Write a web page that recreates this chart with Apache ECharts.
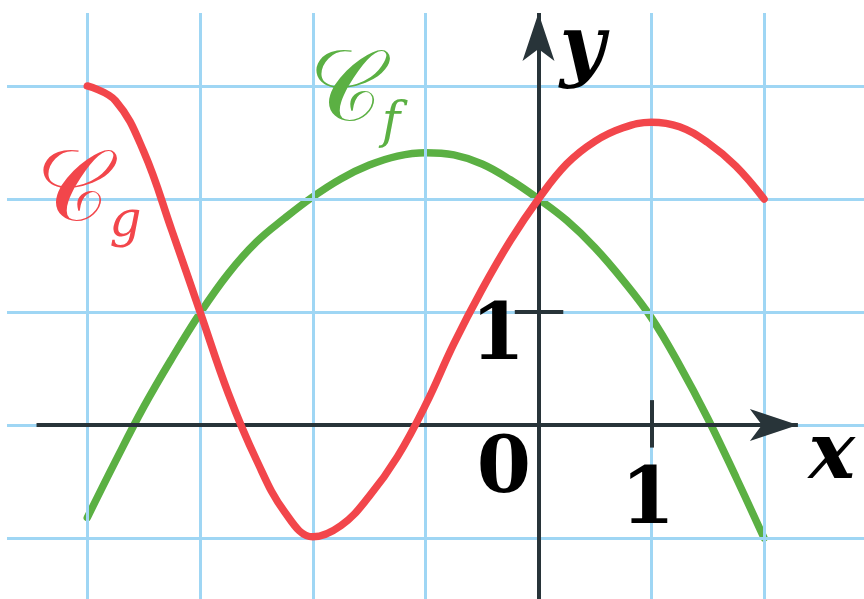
<!DOCTYPE html>
<html>
<head>
<meta charset="utf-8">
<style>
  html, body { margin: 0; padding: 0; background: #ffffff; }
  #chart { width: 864px; height: 599px; }
</style>
<script src="https://cdn.jsdelivr.net/npm/echarts@6/dist/echarts.min.js"></script>
</head>
<body>
<div id="chart"></div>
<script>
// Sample abscissas shared by both curves
const xs = [-4, -3.75, -3.5, -3.25, -3, -2.75, -2.5, -2.25, -2, -1.75, -1.5, -1.25, -1, -0.75, -0.5, -0.25, 0, 0.25, 0.5, 0.75, 1, 1.25, 1.5, 1.75, 2];

// Curve C_g (red)
const gY = [3.0, 2.87, 2.42, 1.72, 1.0, 0.28, -0.31, -0.77, -0.99, -0.89, -0.63, -0.28, 0.18, 0.72, 1.20, 1.63, 2.0, 2.31, 2.51, 2.63, 2.68, 2.64, 2.50, 2.29, 2.0];

// Curve C_f (green)
const fY = [-0.82, -0.32, 0.16, 0.59, 0.99, 1.34, 1.62, 1.83, 2.02, 2.18, 2.30, 2.38, 2.41, 2.39, 2.31, 2.17, 2.0, 1.81, 1.57, 1.28, 0.95, 0.53, 0.06, -0.46, -1.0];

// Grid (squared paper) lines
const gridXs = [-4, -3, -2, -1, 0, 1, 2];
const gridYs = [-1, 0, 1, 2, 3];

// Tick labels: [x, y, text]
const tickLabels = [
  [-0.306, -0.41, '0'],
  [0.97, -0.69, '1'],
  [-0.36, 0.76, '1']
];
// Axis names: [x, y, text]
const axisNames = [
  [2.60, -0.29, 'x'],
  [0.39, 3.30, 'y']
];
// Curve names: [x, y, script letter, subscript]
const curveNames = [
  [-3.985, 2.05, '𝒞', 'g'],
  [-1.63, 2.93, '𝒞', 'f']
];

const RED = '#f2464b';
const GREEN = '#5bb043';
const AXIS = '#283439';
const GRID = '#9fd6f4';

// visible window of the paper
const X_MIN = -4.774, X_MAX = 2.886;
const Y_MIN = -1.540, Y_MAX = 3.761;
const PAPER_LEFT = -4.712, PAPER_TOP = 3.646;

function zip(a, b) { return a.map((x, i) => [x, b[i]]); }

const chart = echarts.init(document.getElementById('chart'), null, { renderer: 'canvas' });

const digitFont = { fontFamily: 'DejaVu Serif', fontWeight: 'bold', fontSize: 78, color: '#000', textBorderWidth: 0 };
const varFont = { fontFamily: 'DejaVu Serif', fontWeight: 'bold', fontStyle: 'italic', fontSize: 78, color: '#000', textBorderWidth: 0 };

const gridLines = [
  ...gridXs.map(x => [{ coord: [x, Y_MIN] }, { coord: [x, PAPER_TOP] }]),
  ...gridYs.map(y => [{ coord: [PAPER_LEFT, y] }, { coord: [X_MAX, y] }])
];

chart.setOption({
  animation: false,
  backgroundColor: '#ffffff',
  grid: { left: 0, right: 0, top: 0, bottom: 0, containLabel: false },
  xAxis: {
    type: 'value', min: X_MIN, max: X_MAX, show: true,
    axisLine: { show: false }, axisTick: { show: false }, axisLabel: { show: false },
    splitLine: { show: false }
  },
  yAxis: {
    type: 'value', min: Y_MIN, max: Y_MAX, show: true,
    axisLine: { show: false }, axisTick: { show: false }, axisLabel: { show: false },
    splitLine: { show: false }
  },
  series: [
    {
      // squared paper
      type: 'line', data: [], silent: true, z: 1,
      markLine: {
        silent: true, animation: false, symbol: ['none', 'none'],
        label: { show: false }, emphasis: { disabled: true },
        lineStyle: { color: GRID, width: 3, type: 'solid' },
        data: gridLines
      }
    },
    {
      // coordinate axes with arrows and unit ticks
      type: 'line', data: [], silent: true, z: 3,
      markLine: {
        silent: true, animation: false,
        symbol: ['none', 'arrow'], symbolSize: [24, 48],
        label: { show: false },
        lineStyle: { color: AXIS, width: 4, type: 'solid' },
        emphasis: { disabled: true },
        data: [
          [{ coord: [-4.45, 0] }, { coord: [2.30, 0] }],
          [{ coord: [0, Y_MIN] }, { coord: [0, PAPER_TOP] }],
          [{ coord: [1, 0.22], symbol: 'none' }, { coord: [1, -0.2], symbol: 'none' }],
          [{ coord: [-0.21, 1], symbol: 'none' }, { coord: [0.22, 1], symbol: 'none' }]
        ]
      }
    },
    {
      name: 'f', type: 'line', smooth: 0.4, showSymbol: false, silent: true, z: 4,
      lineStyle: { color: GREEN, width: 7.5, cap: 'round' },
      data: zip(xs, fY)
    },
    {
      name: 'g', type: 'line', smooth: 0.4, showSymbol: false, silent: true, z: 5,
      lineStyle: { color: RED, width: 7.5, cap: 'round' },
      data: zip(xs, gY)
    },
    {
      type: 'scatter', symbolSize: 0, silent: true, z: 6,
      itemStyle: { opacity: 1 },
      data: tickLabels,
      label: { show: true, position: 'inside', formatter: p => p.data[2], ...digitFont }
    },
    {
      type: 'scatter', symbolSize: 0, silent: true, z: 6,
      itemStyle: { opacity: 1 },
      data: axisNames,
      label: { show: true, position: 'inside', formatter: p => p.data[2], ...varFont }
    },
    {
      type: 'scatter', symbolSize: 0, silent: true, z: 6,
      itemStyle: { opacity: 1 },
      data: curveNames.map(c => ({ value: [c[0], c[1]], name: c[2] + '|' + c[3] })),
      label: {
        show: true, position: 'inside', textBorderWidth: 0,
        formatter: p => {
          const parts = p.name.split('|');
          const k = p.dataIndex === 0 ? 'r' : 'g';
          return '{' + k + 'c|' + parts[0] + '}{' + k + 's|' + parts[1] + '}';
        },
        rich: {
          rc: { fontFamily: 'serif', fontSize: 100, color: RED },
          rs: { fontFamily: 'DejaVu Serif', fontStyle: 'italic', fontSize: 50, color: RED, padding: [60, 0, 0, 0] },
          gc: { fontFamily: 'serif', fontSize: 100, color: GREEN },
          gs: { fontFamily: 'DejaVu Serif', fontStyle: 'italic', fontSize: 50, color: GREEN, padding: [60, 0, 0, 0] }
        }
      }
    }
  ]
});
</script>
</body>
</html>
